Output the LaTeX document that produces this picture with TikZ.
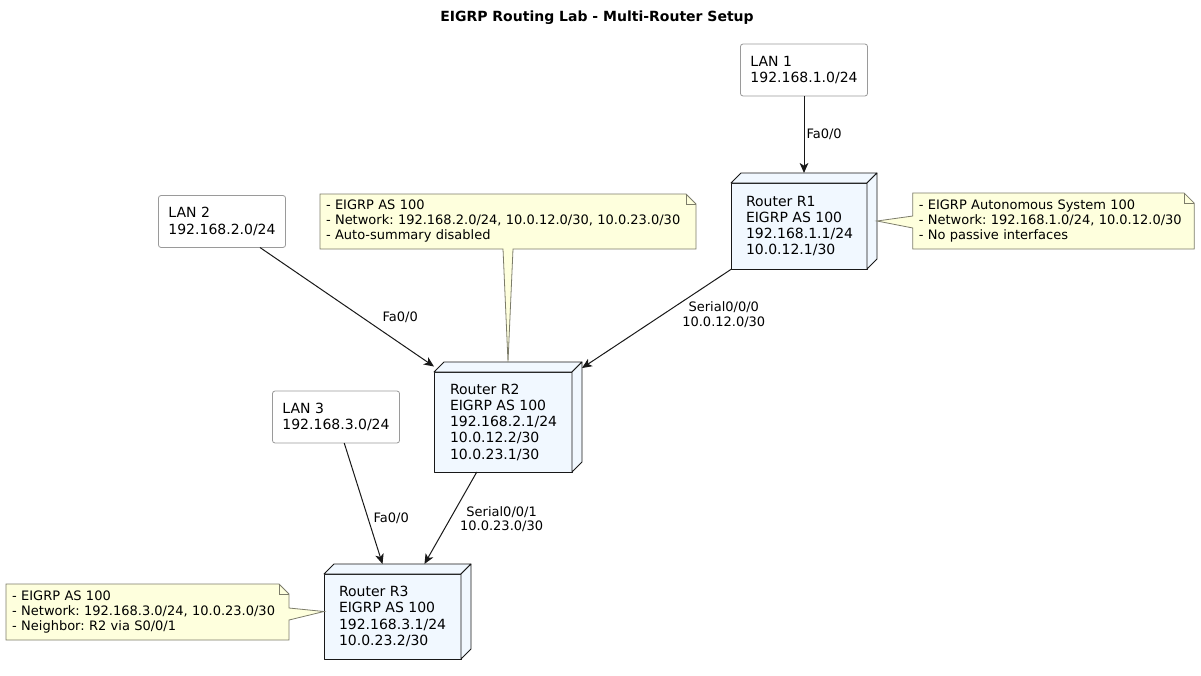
\documentclass[tikz,border=0pt]{standalone}
\usepackage{fontspec}
\setmainfont{DejaVu Sans}
\usetikzlibrary{calc,arrows.meta}
\definecolor{routerfill}{HTML}{F1F8FF}
\definecolor{notefill}{HTML}{FEFFDD}
\definecolor{lineclr}{HTML}{181818}
\definecolor{lanborder}{HTML}{9A9A9A}
\definecolor{noteborder}{HTML}{7C7C6A}
\pgfdeclarelayer{background}
\pgfsetlayers{background,main}
\tikzset{
  lanbox/.style={draw=lanborder, fill=white, rounded corners=2pt, line width=0.6pt,
    inner xsep=7.5pt, inner ysep=0pt, outer sep=0pt, align=left, minimum height=39pt,
    font=\fontsize{10.5}{12.2}\selectfont},
  rbox/.style={shape=rectangle, inner sep=0pt, outer sep=0pt},
  rdraw/.style={draw=lineclr, fill=routerfill, line width=0.6pt, line join=round},
  rtext/.style={inner sep=0pt, outer sep=0pt, align=left, anchor=west,
    font=\fontsize{10.5}{12.2}\selectfont},
  notebox/.style={shape=rectangle, inner xsep=4.5pt, inner ysep=0pt, outer sep=0pt, align=left,
    font=\fontsize{9.75}{11.25}\selectfont},
  notedraw/.style={draw=noteborder, fill=notefill, line width=0.6pt, line join=miter},
  edge/.style={draw=lineclr, line width=0.75pt, -{Stealth[length=7.5pt,width=6.5pt,inset=2pt]}},
  elabel/.style={align=center, inner sep=0pt, text=black,
    font=\fontsize{9.75}{10.8}\selectfont},
}
\begin{document}
\frenchspacing
\begin{tikzpicture}[x=0.75pt,y=-0.75pt]
\useasboundingbox (0,0) rectangle (1201,675);

% title
\node[font=\bfseries\fontsize{10.5}{12}\selectfont] (title) at (597,18) {EIGRP Routing Lab - Multi-Router Setup};

% LAN boxes
\node[lanbox] (lan1) at (804,70) {LAN 1\\192.168.1.0/24};
\node[lanbox] (lan2) at (222,221.5) {LAN 2\\192.168.2.0/24};
\node[lanbox] (lan3) at (336,417) {LAN 3\\192.168.3.0/24};

% routers (outer bounding boxes incl. depth)
\node[rbox, minimum width=109.5pt, minimum height=72pt] (r1) at (804,221) {};
\node[rbox, minimum width=111pt, minimum height=82.5pt] (r2) at (508,417) {};
\node[rbox, minimum width=110.25pt, minimum height=71.25pt] (r3) at (397.5,611.5) {};

\begin{pgfonlayer}{background}
\foreach \n in {r1,r2,r3} {
  \filldraw[rdraw] (\n.south west) rectangle ($(\n.north east)+(-10,10)$);
  \filldraw[rdraw] ($(\n.north west)+(0,10)$) -- ($(\n.north west)+(10,0)$) -- (\n.north east) -- ($(\n.north east)+(-10,10)$) -- cycle;
  \filldraw[rdraw] ($(\n.north east)+(-10,10)$) -- (\n.north east) -- ($(\n.south east)+(0,-10)$) -- ($(\n.south east)+(-10,0)$) -- cycle;
}
\end{pgfonlayer}

\node[rtext] (r1t) at ($(r1.west)+(15,5)$) {Router R1\\EIGRP AS 100\\192.168.1.1/24\\10.0.12.1/30};
\node[rtext] (r2t) at ($(r2.west)+(16,5)$) {Router R2\\EIGRP AS 100\\192.168.2.1/24\\10.0.12.2/30\\10.0.23.1/30};
\node[rtext] (r3t) at ($(r3.west)+(15,5)$) {Router R3\\EIGRP AS 100\\192.168.3.1/24\\10.0.23.2/30};

% notes
\node[notebox, minimum width=210.75pt, minimum height=42pt, text width=202pt] (n1) at (1053.5,221)
  {- EIGRP Autonomous System 100\\- Network: 192.168.1.0/24, 10.0.12.0/30\\- No passive interfaces};
\node[notebox, minimum width=282pt, minimum height=41.25pt, text width=273pt] (n2) at (508,221.5)
  {- EIGRP AS 100\\- Network: 192.168.2.0/24, 10.0.12.0/30, 10.0.23.0/30\\- Auto-summary disabled};
\node[notebox, minimum width=212.25pt, minimum height=42pt, text width=203pt] (n3) at (147.5,612)
  {- EIGRP AS 100\\- Network: 192.168.3.0/24, 10.0.23.0/30\\- Neighbor: R2 via S0/0/1};

\begin{pgfonlayer}{background}
% note 1, tail to the left (R1)
\filldraw[notedraw] (n1.north west) -- ($(n1.north east)+(-10,0)$) -- ($(n1.north east)+(0,10)$)
  -- (n1.south east) -- (n1.south west) -- ($(n1.north west)+(0,35)$) -- (r1.east)
  -- ($(n1.north west)+(0,23)$) -- cycle;
\draw[notedraw, fill=none] ($(n1.north east)+(-10,0)$) -- ($(n1.north east)+(-10,10)$) -- ($(n1.north east)+(0,10)$);
% note 2, tail downwards (R2)
\filldraw[notedraw] (n2.north west) -- ($(n2.north east)+(-10,0)$) -- ($(n2.north east)+(0,10)$)
  -- (n2.south east) -- ($(n2.south)+(5,0)$) -- (r2.north)
  -- ($(n2.south)+(-5,0)$) -- (n2.south west) -- cycle;
\draw[notedraw, fill=none] ($(n2.north east)+(-10,0)$) -- ($(n2.north east)+(-10,10)$) -- ($(n2.north east)+(0,10)$);
% note 3, tail to the right (R3)
\filldraw[notedraw] (n3.north west) -- ($(n3.north east)+(-10,0)$) -- ($(n3.north east)+(0,10)$)
  -- ($(n3.north east)+(0,24)$) -- (r3.west) -- ($(n3.north east)+(0,36)$)
  -- (n3.south east) -- (n3.south west) -- cycle;
\draw[notedraw, fill=none] ($(n3.north east)+(-10,0)$) -- ($(n3.north east)+(-10,10)$) -- ($(n3.north east)+(0,10)$);
\end{pgfonlayer}

% connectors
\draw[edge] (lan1) -- (r1) node[elabel, midway, anchor=west, shift={(2,0)}] {Fa0/0};
\draw[edge] (lan2) -- (r2) node[elabel, pos=0.8, shift={(1,-25)}] {Fa0/0};
\draw[edge] (r1) -- (r2) node[elabel, pos=0.5, shift={(67,-4)}] {Serial0/0/0\\10.0.12.0/30};
\draw[edge] (lan3) -- (r3) node[elabel, pos=0.6, shift={(24,2.5)}] {Fa0/0};
\draw[edge] (r2) -- (r3) node[elabel, pos=0.5, shift={(51,1)}] {Serial0/0/1\\10.0.23.0/30};
\end{tikzpicture}
\end{document}
